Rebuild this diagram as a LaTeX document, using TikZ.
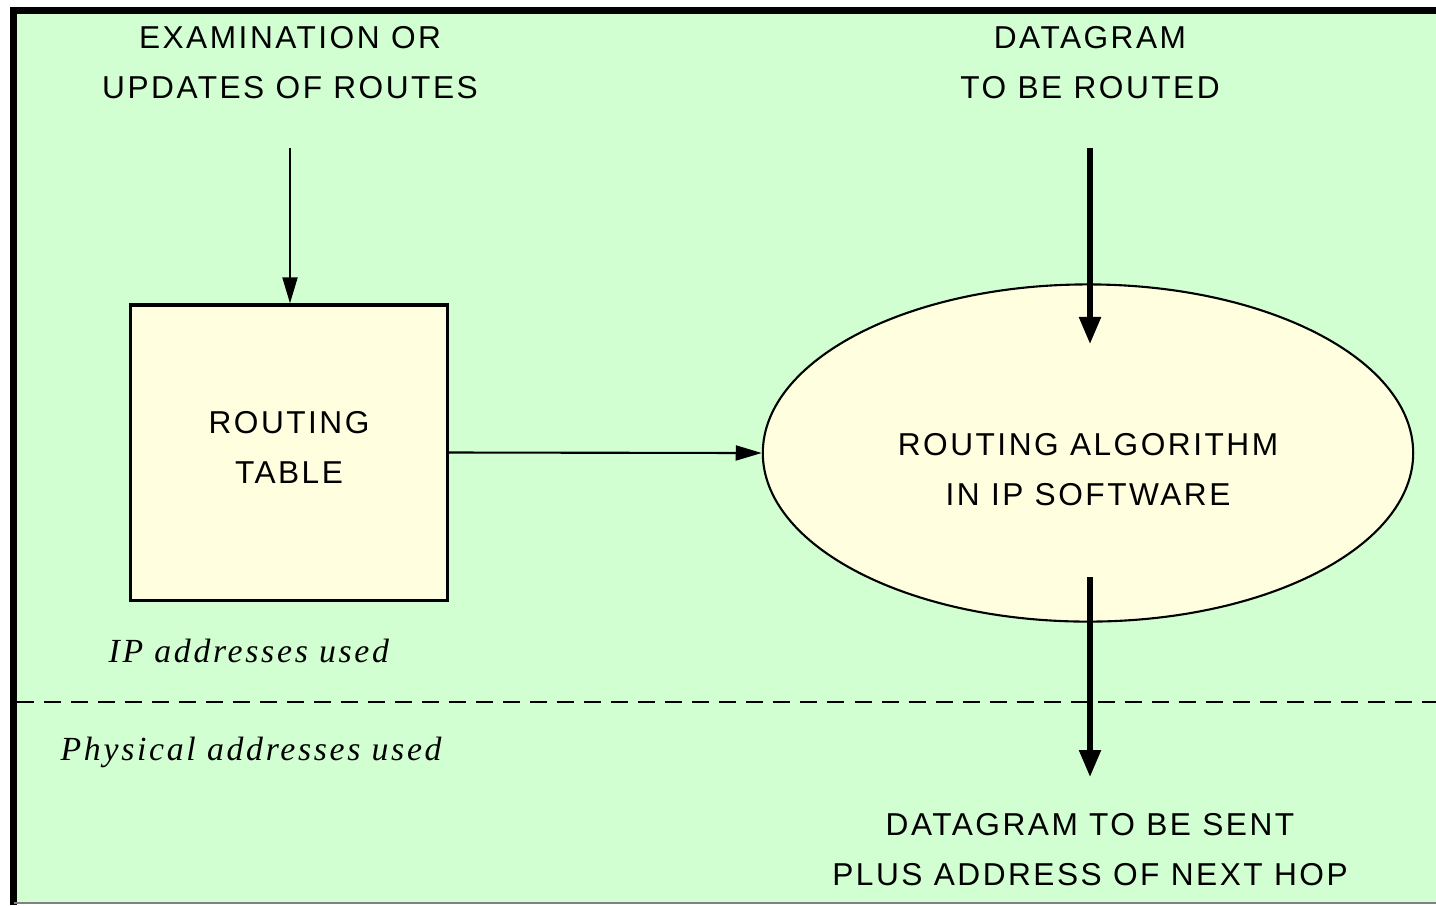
\documentclass[tikz,border=0pt]{standalone}
\usepackage{fontspec}
\setmainfont{Liberation Serif}
\newfontfamily\capsfont[LetterSpace=7.9]{Liberation Sans}
\newfontfamily\labelfont[LetterSpace=8]{Liberation Serif}
\usetikzlibrary{arrows.meta,shapes.geometric}
\definecolor{bggreen}{HTML}{D2FFD2}
\definecolor{paleyellow}{HTML}{FFFFE0}
\tikzset{
  caps/.style={align=center,font=\capsfont\fontsize{9}{14.2}\selectfont,inner sep=0pt},
  note/.style={font=\labelfont\itshape\fontsize{9.6}{11}\selectfont,inner sep=0pt},
  thinarrow/.style={line width=0.6pt,-{Triangle[length=0.26cm,width=0.15cm]}},
  thickarrow/.style={line width=1.5pt,-{Triangle[length=0.27cm,width=0.21cm]}},
}
\begin{document}
\begin{tikzpicture}[x=0.01cm,y=-0.01cm]
\useasboundingbox (0,0) rectangle (1436,905);
\fill[white] (0,0) rectangle (1436,905);
\fill[bggreen] (14,10) rectangle (1436,902);
\draw[line width=2pt] (10,10.5) -- (1436,10.5);
\draw[line width=2pt] (13.5,7) -- (13.5,905);
\draw[gray,line width=0.5pt] (14,903) -- (1436,903);
% dashed separator
\draw[line width=0.6pt,dash pattern=on 0.17cm off 0.1cm] (17,702) -- (1436,702);
% nodes
\node[caps] (tl) at (290,63) {EXAMINATION OR\\UPDATES OF ROUTES};
\node[caps] (tr) at (1090,63) {DATAGRAM\\TO BE ROUTED};
\node[draw,line width=0.9pt,fill=paleyellow,minimum width=3.16cm,minimum height=2.95cm,inner sep=0pt] (tbl) at (289,452.5) {};
\node[caps] at (289,447) {ROUTING\\TABLE};
\node[draw,ellipse,line width=0.6pt,fill=paleyellow,minimum width=6.5cm,minimum height=3.37cm,inner sep=0pt] (alg) at (1088,453) {};
\node[caps] at (1088,470) {ROUTING ALGORITHM\\IN IP SOFTWARE};
\node[caps] (bt) at (1090,850) {DATAGRAM TO BE SENT\\PLUS ADDRESS OF NEXT HOP};
\node[note,anchor=west] (ip) at (108,651) {IP addresses used};
\node[note,anchor=west] (phys) at (60,752) {Physical addresses used};
% connectors
\coordinate (s1) at (290,148);
\coordinate (s2) at (1090,148);
\coordinate (e2) at (1090,344);
\coordinate (s3) at (1090,577);
\coordinate (e3) at (1090,777);
\draw[thinarrow] (s1) -- (s1 |- tbl.north);
\draw[thinarrow] (tbl.east) -- (alg.west);
\draw[thickarrow] (s2) -- (e2);
\draw[thickarrow] (s3) -- (e3);
\end{tikzpicture}
\end{document}
